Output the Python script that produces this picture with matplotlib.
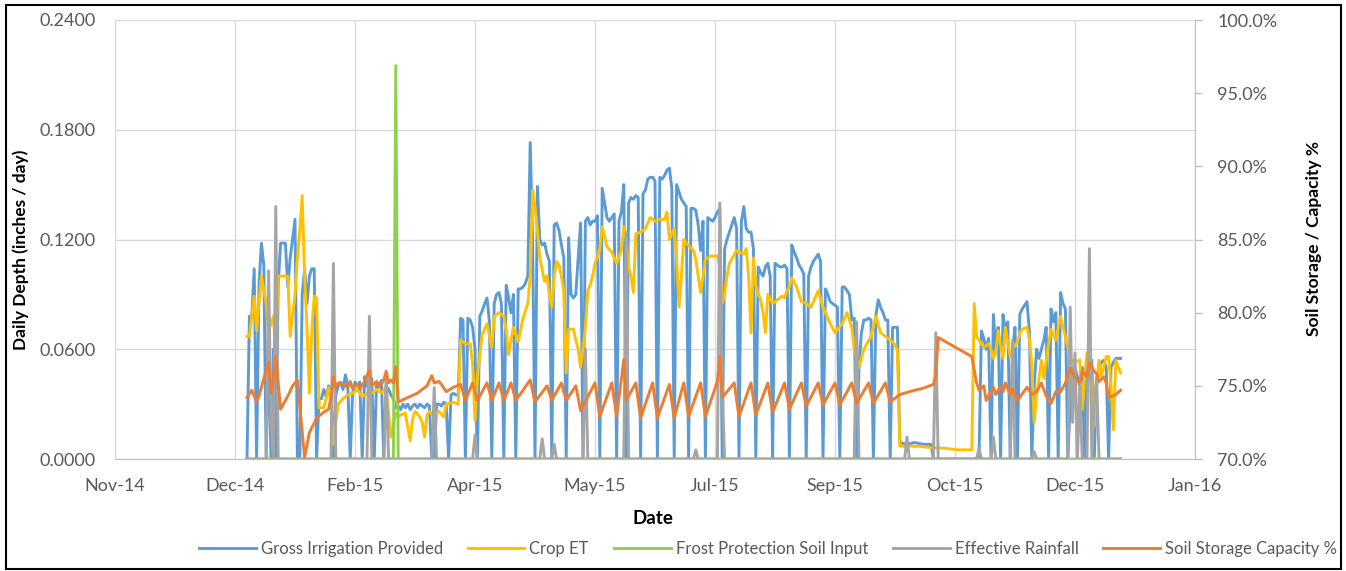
import datetime as dt
import matplotlib
matplotlib.use("Agg")
import matplotlib.pyplot as plt
import matplotlib.dates as mdates
from matplotlib.patches import Rectangle
from matplotlib.ticker import FuncFormatter

plt.rcParams['font.family'] = ['Lato', 'DejaVu Sans']

# day of 2015 (0 = Jan 1) and value
gross_irrigation = [
    (0, 0), (1, 0.078), (2, 0.078), (3, 0.104), (4, 0), (5, 0.095), (6, 0.118), (7, 0.106), (8, 0),
    (9, 0.065), (10, 0), (11, 0.06), (12, 0), (13, 0.095), (14, 0.118), (16, 0.118), (17, 0.094),
    (18, 0.11), (20, 0.131), (21, 0), (22, 0), (23, 0.09), (24, 0.104), (25, 0.085), (26, 0.1),
    (27, 0.104), (28, 0.104), (29, 0), (30, 0.033), (31, 0.033), (32, 0.038), (33, 0.034), (34, 0.04),
    (35, 0.038), (36, 0), (37, 0.035), (38, 0.04), (39, 0.042), (40, 0.038), (41, 0.046), (42, 0.04),
    (43, 0), (44, 0.036), (45, 0.042), (46, 0.04), (47, 0.042), (48, 0), (49, 0.045), (50, 0.04),
    (51, 0.038), (52, 0.044), (53, 0), (54, 0.042), (55, 0.04), (56, 0.043), (57, 0), (58, 0.04),
    (59, 0.038), (60, 0.035), (61, 0.033), (62, 0.028), (63, 0.029), (64, 0.027), (65, 0.03),
    (66, 0.028), (67, 0.03), (68, 0.027), (69, 0.029), (70, 0.03), (71, 0.028), (72, 0.03),
    (73, 0.029), (74, 0.028), (75, 0.03), (76, 0.029), (77, 0), (78, 0), (79, 0.03), (80, 0.03),
    (81, 0.029), (82, 0.031), (83, 0.03), (84, 0), (85, 0.035), (86, 0.036), (87, 0.035), (88, 0.035),
    (89, 0.077), (90, 0.076), (91, 0), (92, 0.077), (93, 0.076), (94, 0.072), (95, 0.06), (96, 0),
    (97, 0.078), (98, 0.081), (99, 0.085), (100, 0.088), (101, 0.075), (102, 0), (103, 0.085),
    (104, 0.09), (105, 0.091), (106, 0.085), (107, 0), (108, 0.095), (109, 0.088), (110, 0.08),
    (111, 0.09), (112, 0), (113, 0.093), (114, 0.093), (115, 0.094), (116, 0.096), (117, 0.1),
    (118, 0.173), (119, 0.12), (120, 0), (121, 0.149), (122, 0.12), (123, 0.117), (124, 0.118),
    (125, 0.112), (126, 0.108), (127, 0), (128, 0.128), (129, 0.129), (130, 0.125), (131, 0.117),
    (132, 0.11), (133, 0), (134, 0.121), (135, 0.09), (136, 0.088), (137, 0.09), (138, 0.11),
    (139, 0.129), (140, 0), (141, 0.13), (142, 0.132), (143, 0.128), (144, 0.13), (145, 0.13),
    (146, 0.133), (147, 0), (148, 0.148), (149, 0.14), (150, 0.132), (151, 0.13), (152, 0.132),
    (153, 0.134), (154, 0), (155, 0.13), (156, 0.135), (157, 0.15), (158, 0), (159, 0.14),
    (160, 0.143), (161, 0.142), (162, 0.144), (163, 0.143), (164, 0), (165, 0.145), (166, 0.147),
    (167, 0.153), (168, 0.154), (169, 0.154), (170, 0.152), (171, 0), (172, 0.154), (173, 0.153),
    (174, 0.155), (175, 0.158), (176, 0.159), (177, 0.148), (178, 0), (179, 0.15), (180, 0.146),
    (181, 0.142), (182, 0.14), (183, 0.138), (184, 0), (185, 0.137), (186, 0.137), (187, 0.136),
    (188, 0.128), (189, 0.114), (190, 0.13), (191, 0), (192, 0.132), (193, 0.131), (194, 0.13),
    (195, 0.132), (196, 0.135), (197, 0.137), (198, 0), (199, 0.115), (200, 0.12), (201, 0.124),
    (202, 0.128), (203, 0.132), (204, 0.126), (205, 0), (206, 0.13), (207, 0.138), (208, 0.126),
    (209, 0.124), (210, 0.124), (211, 0.115), (212, 0), (213, 0.105), (214, 0.102), (215, 0.1),
    (216, 0.105), (217, 0.107), (218, 0.1), (219, 0), (220, 0.107), (221, 0.106), (222, 0.105),
    (223, 0.105), (224, 0.106), (225, 0.104), (226, 0), (227, 0.117), (228, 0.113), (229, 0.11),
    (230, 0.106), (231, 0.104), (232, 0.101), (233, 0), (234, 0.1), (235, 0.105), (236, 0.108),
    (237, 0.11), (238, 0.112), (239, 0.108), (240, 0), (241, 0.093), (242, 0.09), (243, 0.086),
    (244, 0.085), (245, 0.084), (246, 0.083), (247, 0), (248, 0.094), (249, 0.094), (250, 0.092),
    (251, 0.09), (252, 0.076), (253, 0.077), (254, 0), (255, 0.05), (256, 0.069), (257, 0.076),
    (258, 0.076), (259, 0.077), (260, 0.076), (261, 0), (262, 0.078), (263, 0.087), (264, 0.083),
    (265, 0.08), (266, 0.076), (267, 0.076), (268, 0), (269, 0.072), (270, 0.072), (271, 0.072),
    (272, 0.009), (275, 0.008), (278, 0.009), (282, 0.008), (285, 0.008), (286, 0), (305, 0),
    (306, 0.07), (307, 0.066), (308, 0.06), (309, 0.066), (310, 0), (311, 0.079), (312, 0.06),
    (313, 0.072), (314, 0), (315, 0.079), (316, 0.07), (317, 0.075), (318, 0), (319, 0.06),
    (320, 0.072), (321, 0), (322, 0.079), (323, 0.082), (324, 0.084), (325, 0.086), (326, 0.07),
    (327, 0), (328, 0.04), (329, 0.06), (330, 0.055), (331, 0.06), (332, 0.065), (333, 0.072),
    (334, 0), (335, 0.082), (336, 0.075), (337, 0.08), (338, 0), (339, 0.091), (340, 0.085),
    (341, 0.082), (342, 0), (343, 0.03), (344, 0.05), (345, 0.05), (346, 0.045), (347, 0.04),
    (348, 0.05), (349, 0), (350, 0.054), (351, 0.054), (352, 0.054), (353, 0), (354, 0.04),
    (355, 0.05), (356, 0.053), (357, 0.054), (358, 0.05), (359, 0), (360, 0.05), (361, 0.053),
    (362, 0.055), (363, 0.055), (364, 0.055),
]

crop_et = [
    (0, 0.067), (1, 0.067), (3, 0.089), (4, 0.07), (6, 0.1), (8, 0.085), (9, 0.07), (11, 0.078),
    (12, 0.055), (13, 0.1), (17, 0.1), (18, 0.067), (20, 0.09), (21, 0.11), (22, 0.125), (23, 0.144),
    (24, 0.1), (25, 0.072), (26, 0.036), (27, 0.07), (28, 0.089), (29, 0.088), (30, 0.028),
    (32, 0.028), (33, 0.033), (34, 0.039), (35, 0.03), (36, 0.008), (37, 0.02), (38, 0.03),
    (40, 0.033), (42, 0.035), (44, 0.036), (46, 0.038), (48, 0.034), (50, 0.036), (52, 0.036),
    (54, 0.038), (56, 0.036), (58, 0.039), (59, 0.025), (60, 0.012), (61, 0.018), (62, 0.025),
    (63, 0.023), (64, 0.024), (66, 0.025), (67, 0.017), (68, 0.01), (69, 0.022), (70, 0.026),
    (72, 0.023), (73, 0.02), (74, 0.012), (75, 0.024), (76, 0.026), (78, 0.024), (80, 0.026),
    (82, 0.023), (83, 0.03), (86, 0.031), (88, 0.03), (89, 0.065), (91, 0.063), (93, 0.063),
    (94, 0.052), (95, 0.021), (96, 0.045), (97, 0.057), (98, 0.068), (100, 0.074), (102, 0.061),
    (103, 0.078), (105, 0.08), (107, 0.078), (108, 0.07), (109, 0.057), (110, 0.065), (111, 0.072),
    (112, 0.068), (113, 0.064), (115, 0.077), (117, 0.085), (118, 0.1), (119, 0.147), (120, 0.138),
    (121, 0.125), (122, 0.11), (124, 0.097), (125, 0.1), (126, 0.09), (127, 0.083), (128, 0.1),
    (129, 0.108), (130, 0.106), (131, 0.1), (132, 0.092), (133, 0.047), (134, 0.071), (136, 0.071),
    (137, 0.065), (138, 0.06), (139, 0.05), (140, 0.06), (141, 0.072), (142, 0.092), (143, 0.095),
    (144, 0.1), (145, 0.107), (146, 0.11), (147, 0.115), (148, 0.127), (150, 0.116), (152, 0.113),
    (154, 0.107), (156, 0.114), (157, 0.127), (158, 0.12), (159, 0.105), (160, 0.1), (161, 0.091),
    (162, 0.123), (164, 0.124), (166, 0.126), (168, 0.132), (170, 0.13), (172, 0.131), (174, 0.131),
    (175, 0.135), (176, 0.12), (178, 0.126), (179, 0.11), (180, 0.083), (181, 0.1), (182, 0.12),
    (183, 0.118), (186, 0.114), (187, 0.109), (188, 0.1), (189, 0.091), (190, 0.1), (191, 0.109),
    (193, 0.111), (196, 0.111), (197, 0.105), (198, 0.085), (199, 0.09), (200, 0.1), (201, 0.107),
    (204, 0.114), (207, 0.112), (208, 0.115), (209, 0.1), (210, 0.069), (211, 0.11), (212, 0.095),
    (213, 0.09), (214, 0.087), (215, 0.08), (216, 0.069), (217, 0.09), (219, 0.085), (221, 0.087),
    (223, 0.089), (224, 0.088), (225, 0.092), (226, 0.094), (227, 0.099), (229, 0.094), (231, 0.086),
    (233, 0.085), (235, 0.083), (238, 0.092), (240, 0.083), (243, 0.074), (245, 0.069), (248, 0.074),
    (250, 0.08), (252, 0.072), (253, 0.06), (255, 0.05), (257, 0.06), (260, 0.067), (262, 0.078),
    (264, 0.069), (266, 0.067), (269, 0.064), (271, 0.06), (272, 0.007), (280, 0.007), (286, 0.006),
    (290, 0.006), (296, 0.005), (302, 0.005), (303, 0.085), (304, 0.067), (305, 0.065), (307, 0.061),
    (309, 0.063), (310, 0.06), (311, 0.055), (312, 0.058), (313, 0.07), (314, 0.062), (315, 0.055),
    (316, 0.072), (318, 0.056), (319, 0.06), (321, 0.064), (322, 0.069), (323, 0.071), (325, 0.072),
    (326, 0.065), (327, 0.052), (328, 0.02), (329, 0.035), (330, 0.044), (331, 0.054), (332, 0.044),
    (334, 0.063), (335, 0.071), (337, 0.065), (338, 0.072), (339, 0.078), (340, 0.072), (341, 0.067),
    (343, 0.055), (345, 0.053), (347, 0.054), (348, 0.027), (349, 0.045), (350, 0.058), (351, 0.054),
    (352, 0.04), (353, 0.018), (354, 0.04), (355, 0.054), (356, 0.045), (358, 0.056), (359, 0.056),
    (360, 0.04), (361, 0.016), (362, 0.054), (364, 0.047),
]

frost_protection = [(0, 0), (61, 0), (62, 0.215), (63, 0), (364, 0)]

effective_rainfall = [
    (0, 0), (8, 0), (9, 0.103), (10, 0.02), (11, 0), (12, 0.138), (13, 0), (35, 0), (36, 0.107),
    (37, 0), (50, 0), (51, 0.078), (52, 0), (57, 0), (58, 0.047), (59, 0), (77, 0), (78, 0.039),
    (79, 0), (94, 0), (95, 0.013), (96, 0), (122, 0), (123, 0.011), (124, 0), (127, 0), (128, 0.008),
    (129, 0), (140, 0), (141, 0.06), (142, 0), (157, 0), (158, 0.124), (159, 0), (186, 0),
    (187, 0.005), (188, 0), (196, 0), (197, 0.14), (198, 0.04), (199, 0), (253, 0), (254, 0.075),
    (255, 0), (274, 0), (275, 0.012), (276, 0), (286, 0), (287, 0.069), (288, 0), (304, 0),
    (305, 0.006), (306, 0), (310, 0), (311, 0.012), (312, 0), (318, 0), (319, 0.065), (320, 0),
    (327, 0), (328, 0.004), (329, 0), (342, 0), (343, 0.083), (344, 0.02), (345, 0.058), (346, 0),
    (347, 0.04), (348, 0), (350, 0), (351, 0.115), (352, 0), (353, 0.03), (354, 0.045), (355, 0),
    (364, 0),
]

soil_storage_pct = [
    (0, 74.2), (2, 74.7), (4, 73.9), (5, 74.3), (7, 75.5), (9, 76.6), (10, 74.5), (11, 75.5),
    (12, 77.0), (14, 73.4), (17, 74.3), (19, 75.0), (21, 75.4), (24, 70.1), (26, 71.8), (29, 72.8),
    (32, 73.2), (34, 73.4), (35, 74.2), (36, 75.6), (37, 74.9), (38, 75.2), (40, 75.1), (42, 74.9),
    (43, 75.3), (44, 74.8), (46, 75.1), (47, 74.8), (49, 75.3), (51, 76.1), (52, 75.0), (54, 75.3),
    (55, 74.9), (57, 75.4), (58, 76.0), (59, 75.2), (60, 75.4), (61, 75.2), (62, 76.3), (63, 73.9),
    (67, 74.2), (71, 74.5), (75, 75.0), (77, 75.7), (78, 75.2), (80, 75.3), (81, 75.1), (83, 74.6),
    (84, 74.7), (86, 74.9), (89, 75.1), (91, 74.0), (94, 75.2), (96, 74.0), (100, 75.2), (102, 74.0),
    (105, 75.2), (107, 74.0), (110, 75.2), (112, 74.0), (118, 75.4), (120, 73.9), (125, 75.0),
    (127, 74.0), (131, 75.2), (133, 74.0), (137, 75.0), (139, 73.3), (145, 75.2), (147, 72.9),
    (152, 75.2), (154, 72.9), (157, 76.8), (158, 74.0), (162, 75.2), (164, 72.8), (169, 75.2),
    (171, 72.8), (176, 75.1), (178, 72.8), (182, 75.2), (184, 72.9), (189, 75.2), (191, 72.9),
    (196, 75.3), (197, 77.0), (198, 74.2), (203, 75.2), (205, 72.9), (210, 75.2), (212, 73.0),
    (217, 75.2), (219, 73.2), (224, 75.2), (226, 73.4), (231, 75.2), (233, 73.6), (238, 75.2),
    (240, 73.7), (245, 75.2), (247, 73.7), (252, 75.2), (254, 73.8), (259, 75.2), (261, 73.8),
    (266, 75.2), (268, 73.9), (272, 74.4), (276, 74.6), (282, 74.85), (286, 75.1), (287, 75.7),
    (288, 78.3), (302, 77.0), (304, 75.2), (305, 74.7), (307, 75.0), (308, 74.0), (311, 74.9),
    (312, 74.4), (314, 75.0), (315, 74.6), (316, 75.2), (318, 74.4), (319, 74.8), (321, 74.0),
    (325, 74.9), (327, 74.4), (329, 74.6), (331, 75.2), (333, 74.3), (335, 73.8), (337, 74.6),
    (339, 74.6), (341, 75.2), (343, 76.2), (345, 75.6), (347, 75.2), (348, 76.0), (350, 75.6),
    (351, 76.6), (353, 76.0), (354, 75.8), (355, 75.3), (357, 75.6), (358, 75.2), (359, 74.2),
    (362, 74.4), (364, 74.7),
]

depth_ticks = [0.0, 0.06, 0.12, 0.18, 0.24]
pct_ticks = [70, 75, 80, 85, 90, 95, 100]

year_start = dt.date(2015, 1, 1)
axis_start = dt.date(2014, 11, 7)
axis_end = dt.date(2016, 1, 31)


def to_xy(points):
    xs = [year_start + dt.timedelta(days=d) for d, v in points]
    ys = [v for d, v in points]
    return xs, ys


fig = plt.figure(figsize=(13.46, 5.71), dpi=100)
ax = fig.add_axes([115 / 1346, 1 - 459 / 571, 1080 / 1346, 439 / 571])
ax2 = ax.twinx()

lw = 2.1
series = [
    (gross_irrigation, '#5B9BD5', 'Gross Irrigation Provided'),
    (crop_et, '#FFC000', 'Crop ET'),
    (frost_protection, '#8FD14F', 'Frost Protection Soil Input'),
    (effective_rainfall, '#A5A5A5', 'Effective Rainfall'),
]
handles = []
for pts, col, name in series:
    xs, ys = to_xy(pts)
    h, = ax.plot(xs, ys, color=col, lw=lw, label=name, solid_joinstyle='round')
    handles.append(h)

xs, ys = to_xy(soil_storage_pct)
h, = ax2.plot(xs, ys, color='#ED7D31', lw=lw, label='Soil Storage Capacity %', solid_joinstyle='round')
handles.append(h)

# x axis: Excel-style date axis, major unit 50 days
ax.set_xlim(axis_start, axis_end)
ax.set_xticks([axis_start + dt.timedelta(days=50 * k) for k in range(10)])
ax.xaxis.set_major_formatter(mdates.DateFormatter('%b-%y'))

ax.set_ylim(0, 0.24)
ax.set_yticks(depth_ticks)
ax.yaxis.set_major_formatter(FuncFormatter(lambda v, p: f'{v:.4f}'))
ax2.set_ylim(70, 100)
ax2.set_yticks(pct_ticks)
ax2.yaxis.set_major_formatter(FuncFormatter(lambda v, p: f'{v:.1f}%'))

grid_col = '#D9D9D9'
ax.grid(True, color=grid_col, lw=1.0)
ax.set_axisbelow(True)
for s in ['left', 'top', 'right']:
    ax.spines[s].set_visible(False)
    ax2.spines[s].set_visible(False)
ax.spines['bottom'].set_color('#BFBFBF')
ax2.spines['bottom'].set_visible(False)
ax2.spines['right'].set_visible(True)
ax2.spines['right'].set_color('#BFBFBF')

tick_col = '#595959'
fs = 13
ax.tick_params(axis='y', length=0, pad=14, labelsize=fs, labelcolor=tick_col)
ax.tick_params(axis='x', length=0, pad=14, labelsize=fs, labelcolor=tick_col)
ax2.tick_params(axis='y', length=5, width=1, color='#BFBFBF', pad=11, labelsize=fs, labelcolor=tick_col)

ax.set_ylabel('Daily Depth (inches / day)', fontsize=12.5, fontweight='bold')
ax.yaxis.set_label_coords(-0.08, 0.476)
ax2.set_ylabel('Soil Storage / Capacity %', fontsize=12.5, fontweight='bold')
ax2.yaxis.set_label_coords(1.103, 0.503)

fig.text(653 / 1346, 1 - 518 / 571, 'Date', ha='center', va='center', fontsize=13.5, fontweight='bold')

fig.legend(handles, [h.get_label() for h in handles], loc='center',
           bbox_to_anchor=(768 / 1346, 1 - 549 / 571), ncol=5, frameon=False,
           handlelength=3.4, handletextpad=0.3, columnspacing=1.5, fontsize=12,
           labelcolor=tick_col)

fig.patches.append(Rectangle((6 / 1346, 2 / 571), 1335 / 1346, 564 / 571,
                             transform=fig.transFigure, fill=False, ec='black', lw=1.5))

fig.savefig('out.png', dpi=100)
